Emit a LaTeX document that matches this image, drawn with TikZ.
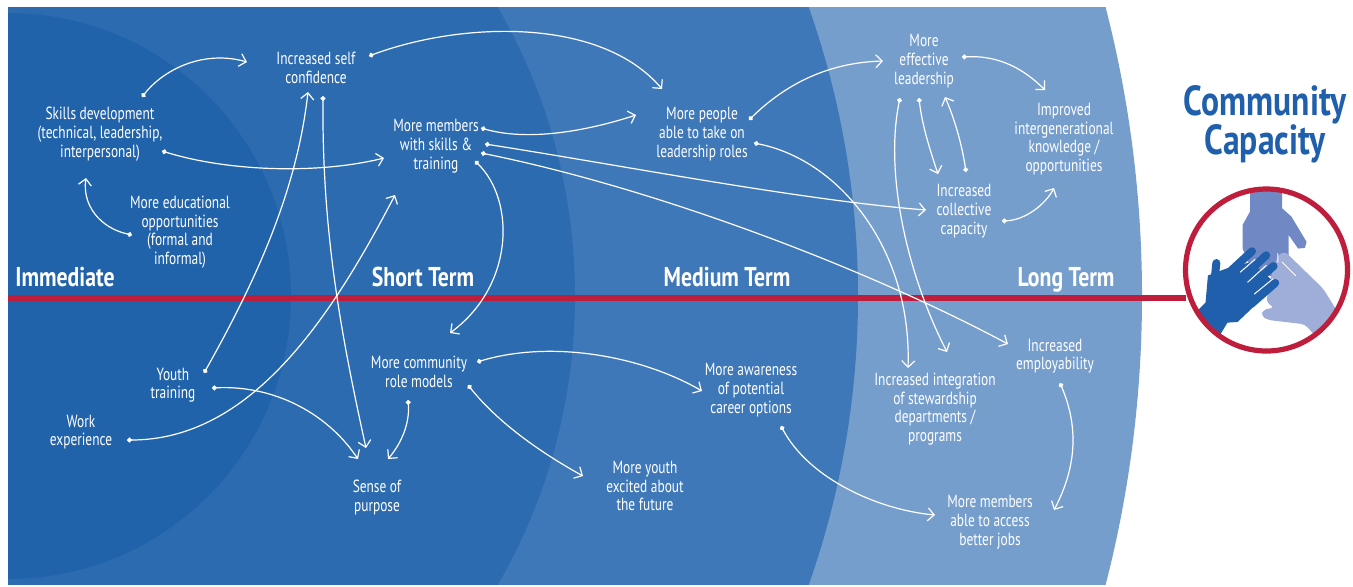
\documentclass[tikz,border=0pt]{standalone}
\usepackage{fontspec}
\setmainfont{PT Sans}[FakeStretch=0.76]
\newfontfamily\headfont{PT Sans Bold}[FakeStretch=0.8]
\usetikzlibrary{arrows.meta}
\definecolor{immC}{HTML}{2163AB}
\definecolor{shortC}{HTML}{2C6BB0}
\definecolor{medC}{HTML}{3F78B9}
\definecolor{longC}{HTML}{769ECD}
\definecolor{redC}{HTML}{BE1E3C}
\definecolor{handA}{HTML}{7089C4}
\definecolor{handB}{HTML}{9FADD9}
\definecolor{handC}{HTML}{1F5FAC}
\tikzset{
  lbl/.style={text=white,align=center,inner sep=0pt,yshift=-0.6pt,font=\fontsize{8.8}{9.35}\selectfont},
  term/.style={text=white,inner sep=0pt,anchor=base,font=\headfont\fontsize{13.6}{15}\selectfont},
  title/.style={text=handC,align=center,inner sep=0pt,font=\headfont\fontsize{21}{19.5}\selectfont},
  conn/.style={draw=white,line width=0.6pt,{Circle[length=2.4pt]}-{Straight Barb[length=3.2pt,width=6.5pt,line width=0.6pt]}},
  finger/.style={handC,line width=4pt,line cap=round},
}
\begin{document}
\begin{tikzpicture}[x=0.5pt,y=-0.5pt]
\useasboundingbox (0,0) rectangle (1353,586);
\fill[white] (0,0) rectangle (1353,586);
\begin{scope}
  \clip (8,7) rectangle (1353,584);
  \fill[longC] (-13,296) circle[radius=1155];
  \fill[medC] (-8,296) circle[radius=866];
  \fill[shortC] (-3,296) circle[radius=578];
  \fill[immC] (8,296) circle[radius=283];
\end{scope}
% red line
\draw[redC,line width=2.6pt] (8,298) -- (1186,298);
% hands
\begin{scope}
  \clip (1266.5,270) circle[radius=83];
  \begin{scope}[shift={(1150,60)},xscale=0.3367,yscale=0.3367]
    \fill[handA] (297,370) -- (392,370) -- (392,440) -- (420,465) -- (465,540) -- (460,558) -- (440,560) -- (412,520) -- (412,600) -- (380,650) -- (300,620) -- (275,560) -- (275,490) -- (297,450) -- cycle;
    \fill[handB,rounded corners=2pt] (590,800) -- (555,745) -- (515,680) -- (400,568) -- (380,580) -- (360,640) -- (345,720) -- (370,735) -- (335,742) -- (330,760) -- (350,772) -- (460,785) -- (500,830) -- cycle;
    \fill[handC] (120,765) -- (165,720) -- (172,640) -- (225,620) -- (300,600) -- (372,662) -- (300,740) -- (260,778) -- (230,780) -- (200,830) -- cycle;
    \draw[finger] (197,603) -- (188,690);
    \draw[finger] (303,568) -- (225,640);
    \draw[finger] (345,580) -- (265,655);
    \draw[finger] (367,612) -- (290,680);
    \draw[finger] (372,662) -- (300,725);
    \draw[white,line width=0.5pt,line cap=round] (268,630) -- (312,592) (290,660) -- (345,610) (310,695) -- (365,650) (380,575) -- (380,600) (392,600) -- (432,640);
  \end{scope}
\end{scope}
\node[draw=redC,line width=2.6pt,circle,minimum size=81pt,inner sep=0pt] (hands) at (1266.5,270) {};
% texts
\node[title] (cc) at (1265,124) {Community\\Capacity};
\node[term] (t1) at (65,286) {Immediate};
\node[term] (t2) at (423,286) {Short Term};
\node[term] (t3) at (727,286) {Medium Term};
\node[term] (t4) at (1066,286) {Long Term};
\node[lbl] (skills) at (100,133) {Skills development\\(technical, leadership,\\interpersonal)};
\node[lbl] (self) at (316,67) {Increased self\\confidence};
\node[lbl] (members) at (436,145) {More members\\with skills \&\\training};
\node[lbl] (edu) at (180,231) {More educational\\opportunities\\(formal and\\informal)};
\node[lbl] (people) at (702,133) {More people\\able to take on\\leadership roles};
\node[lbl] (effective) at (924,60) {More\\effective\\leadership};
\node[lbl] (improved) at (1064,138) {Improved\\intergenerational\\knowledge /\\opportunities};
\node[lbl] (collective) at (964,210) {Increased\\collective\\capacity};
\node[lbl] (role) at (419,371) {More community\\role models};
\node[lbl] (youth) at (173,384) {Youth\\training};
\node[lbl] (work) at (81,431) {Work\\experience};
\node[lbl] (sense) at (377,496) {Sense of\\purpose};
\node[lbl] (excited) at (645,485) {More youth\\excited about\\the future};
\node[lbl] (aware) at (751,389) {More awareness\\of potential\\career options};
\node[lbl] (integ) at (935,408) {Increased integration\\of stewardship\\departments /\\programs};
\node[lbl] (employ) at (1055,355) {Increased\\employability};
\node[lbl] (jobs) at (990,521) {More members\\able to access\\better jobs};
% connector ends
\foreach \n/\x/\y in {a1/142/97,b1/247/62,a2/162/151,b2/384/158,a3/132/235,b3/86/178,a4/369/56,b4/662/89,
  a5/204/373,b5/308/92,a6/323/96,b6/366/448,a7/127/440,b7/395/195,a8/212/388,b8/358/459,a9/408/400,b9/388/459,
  a10/475/161,b10/450/333,a11/481/128,b11/636/115,a12/485/144,b12/926/210,a13/481/153,b13/1008/344,
  a14/749/120,b14/883/61,a15/754/143,b15/908/368,a16/900/98,b16/947/352,a17/919/98,b17/938/174,a18/966/172,b18/945/97,
  a19/962/57,b19/1045/90,a20/1002/221,b20/1054/188,a21/1060/383,b21/1054/510,a22/781/426,b22/935/515,
  a23/477/362,b23/702/391,a24/468/385,b24/583/476}
  {\coordinate (\n) at (\x,\y);}
\draw[conn] (a1) .. controls (165,68) and (205,50) .. (b1);
\draw[conn] (a2) .. controls (230,172) and (320,174) .. (b2);
\draw[conn] (a3) .. controls (100,228) and (82,205) .. (b3);
\draw[conn] (a4) .. controls (460,22) and (600,16) .. (b4);
\draw[conn] (a5) .. controls (265,265) and (298,180) .. (b5);
\draw[conn] (a6) .. controls (322,230) and (340,330) .. (b6);
\draw[conn] (a7) .. controls (250,440) and (330,320) .. (b7);
\draw[conn] (a8) .. controls (270,385) and (325,410) .. (b8);
\draw[conn] (a9) .. controls (410,425) and (400,445) .. (b9);
\draw[conn] (a10) .. controls (515,200) and (515,285) .. (b10);
\draw[conn] (a11) .. controls (530,142) and (590,130) .. (b11);
\draw[conn] (a12) .. controls (620,165) and (800,200) .. (b12);
\draw[conn] (a13) .. controls (650,187) and (860,265) .. (b13);
\draw[conn] (a14) .. controls (800,70) and (850,62) .. (b14);
\draw[conn] (a15) .. controls (840,160) and (912,250) .. (b15);
\draw[conn] (a16) .. controls (885,170) and (905,270) .. (b16);
\draw[conn] (a17) .. controls (922,125) and (930,150) .. (b17);
\draw[conn] (a18) .. controls (962,145) and (955,120) .. (b18);
\draw[conn] (a19) .. controls (1000,55) and (1025,70) .. (b19);
\draw[conn] (a20) .. controls (1025,220) and (1045,205) .. (b20);
\draw[conn] (a21) .. controls (1080,430) and (1075,470) .. (b21);
\draw[conn] (a22) .. controls (810,480) and (880,510) .. (b22);
\draw[conn] (a23) .. controls (550,340) and (640,355) .. (b23);
\draw[conn] (a24) .. controls (500,425) and (545,455) .. (b24);
\end{tikzpicture}
\end{document}
